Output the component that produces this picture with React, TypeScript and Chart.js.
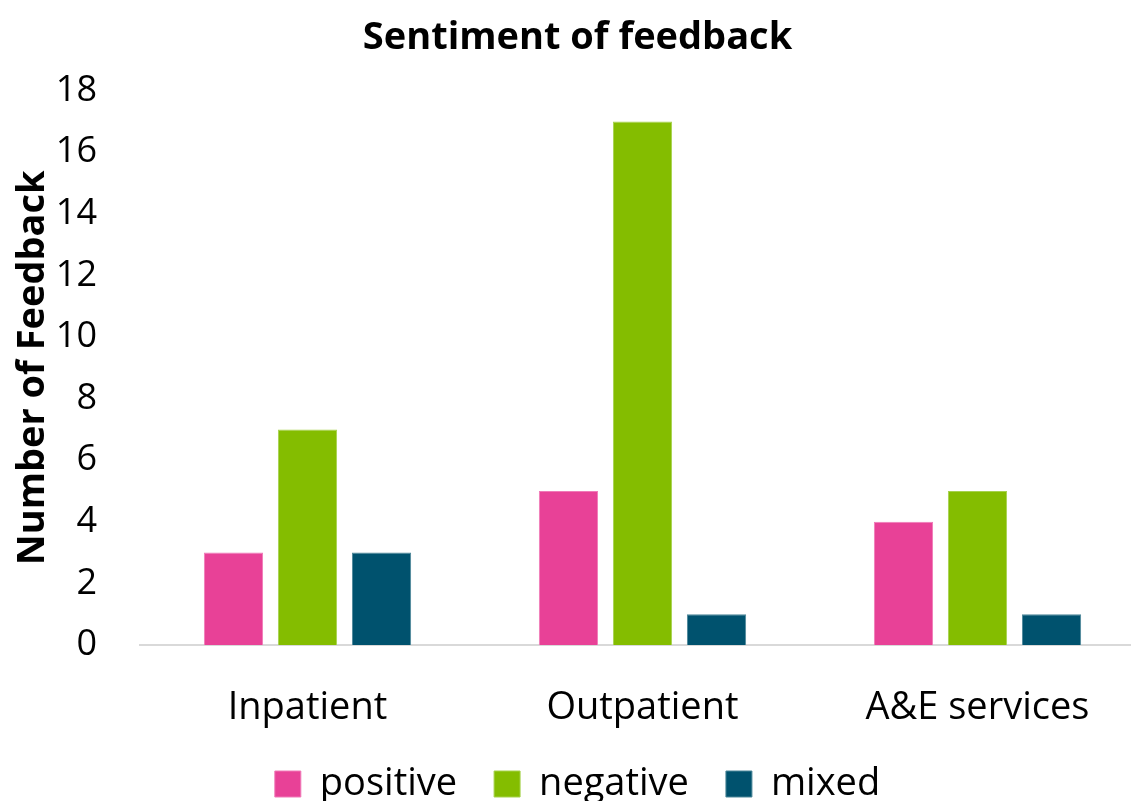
import React, { useEffect, useRef } from "react";
import { Chart, registerables } from "chart.js";

Chart.register(...registerables);

const categories = ["Inpatient", "Outpatient", "A&E services"];
const positiveValues = [3, 5, 4];
const negativeValues = [7, 17, 5];
const mixedValues = [3, 1, 1];
const yTicks = [0, 2, 4, 6, 8, 10, 12, 14, 16, 18];

const FONT = "'Open Sans', sans-serif";
const W = 1145;
const H = 813;

export default function App() {
  const canvasRef = useRef<HTMLCanvasElement | null>(null);

  useEffect(() => {
    document.body.style.margin = "0";
    document.body.style.overflow = "hidden";
    const canvas = canvasRef.current;
    if (!canvas) return;
    const chart = new Chart(canvas, {
      type: "bar",
      data: {
        labels: categories,
        datasets: [
          {
            label: "positive",
            data: positiveValues,
            backgroundColor: "#E84197",
            borderColor: "#F07AB8",
            borderWidth: 1,
          },
          {
            label: "negative",
            data: negativeValues,
            backgroundColor: "#84BD00",
            borderColor: "#A6D24D",
            borderWidth: 1,
          },
          {
            label: "mixed",
            data: mixedValues,
            backgroundColor: "#00526E",
            borderColor: "#4D8799",
            borderWidth: 1,
          },
        ],
      },
      options: {
        animation: false,
        responsive: false,
        maintainAspectRatio: false,
        datasets: {
          bar: { categoryPercentage: 0.663, barPercentage: 0.8 },
        },
        layout: { padding: { left: 10, right: 0, top: 0, bottom: 0 } },
        plugins: {
          title: {
            display: true,
            text: "Sentiment of feedback",
            color: "#000",
            font: { family: FONT, size: 38, weight: "bold" },
            padding: { top: 15, bottom: 30 },
          },
          legend: {
            position: "bottom",
            labels: {
              color: "#000",
              font: { family: FONT, size: 38 },
              boxWidth: 26,
              boxHeight: 26,
              padding: 37,
            },
          },
          tooltip: { enabled: false },
        },
        scales: {
          x: {
            grid: { display: false, drawTicks: false },
            border: { display: true, color: "#D9D9D9", width: 2 },
            ticks: {
              color: "#000",
              font: { family: FONT, size: 38 },
              padding: 40,
              maxRotation: 0,
            },
            afterFit: (scale: any) => {
              scale.height = 83;
            },
          },
          y: {
            min: 0,
            max: 18,
            afterBuildTicks: (scale: any) => {
              scale.ticks = yTicks.map((v) => ({ value: v }));
            },
            afterFit: (scale: any) => {
              scale.width = 130;
            },
            grid: { display: false, drawTicks: false },
            border: { display: false },
            ticks: {
              color: "#000",
              font: { family: FONT, size: 36 },
              padding: 43,
            },
            title: {
              display: true,
              text: "Number of Feedback",
              color: "#000",
              font: { family: FONT, size: 38, weight: "bold" },
              padding: 0,
            },
          },
        },
      },
    });
    return () => chart.destroy();
  }, []);

  return (
    <div style={{ position: "absolute", left: 0, top: 0, width: W, height: H, background: "#fff" }}>
      <canvas ref={canvasRef} width={W} height={H} />
    </div>
  );
}
